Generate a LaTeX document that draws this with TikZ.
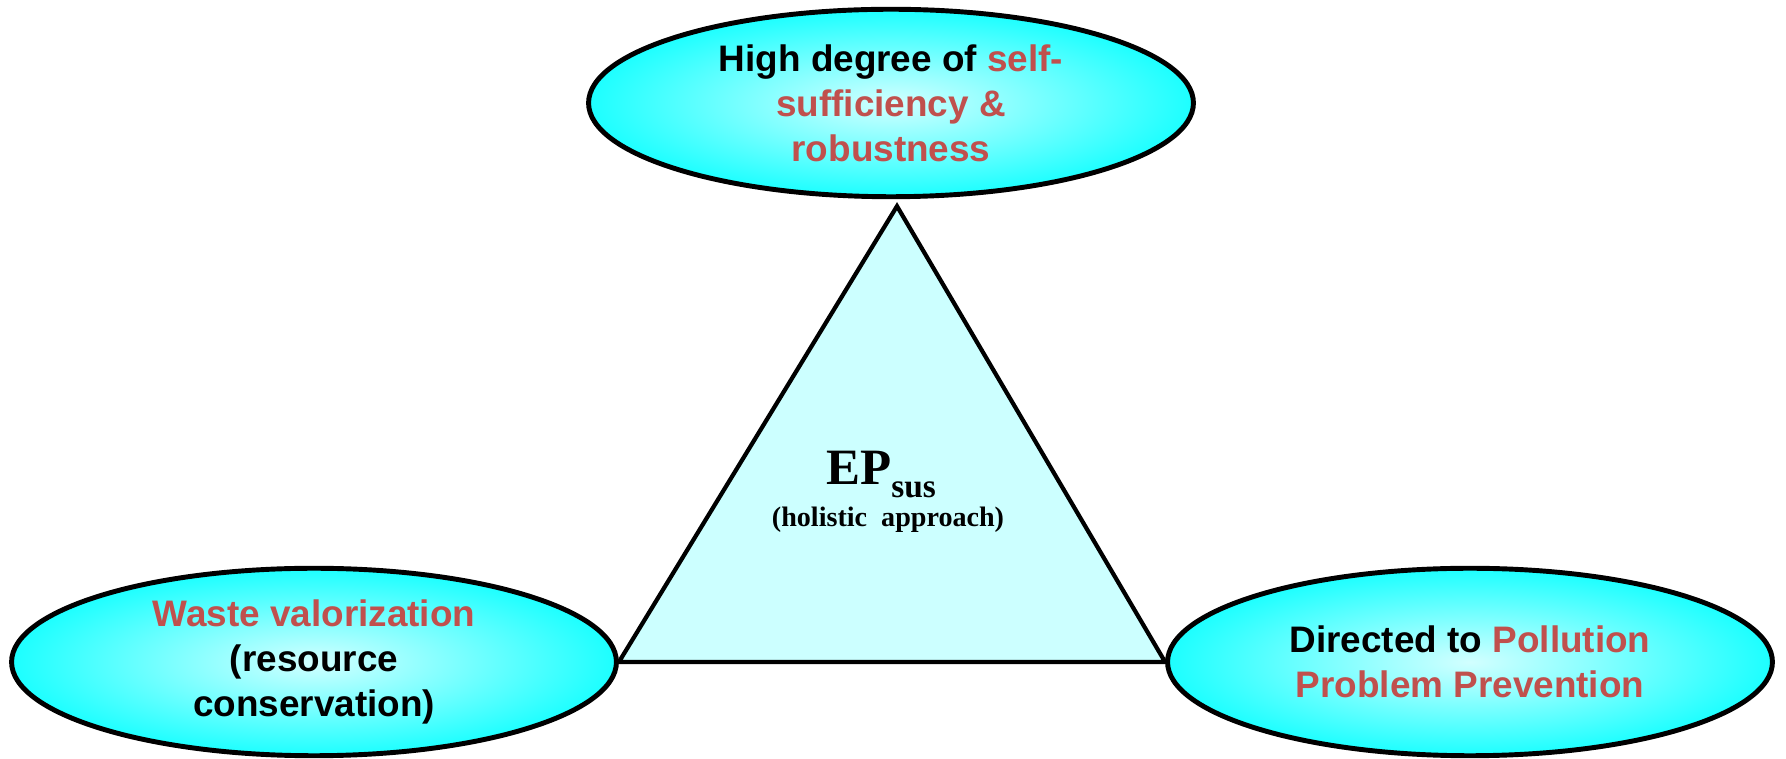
\documentclass[tikz,border=0pt]{standalone}
\usepackage{fontspec}
\setmainfont{Liberation Serif}
\setsansfont{Liberation Sans}
\usepackage{tikz}
\usetikzlibrary{calc,shapes.geometric,backgrounds}
\definecolor{rim}{HTML}{000000}
\definecolor{aqua}{HTML}{1CFFFF}
\definecolor{aqualight}{HTML}{D2FFFF}
\definecolor{trifill}{HTML}{CCFFFF}
\definecolor{accent}{HTML}{C0504D}
\tikzset{
  goal/.style={ellipse, draw=rim, line width=2.8pt, inner color=aqualight, outer color=aqua,
    minimum width=12.1cm, minimum height=3.75cm, inner sep=0pt, align=center,
    font=\sffamily\bfseries\fontsize{21}{25.6}\selectfont},
  tri/.style={draw=rim, fill=trifill, line width=2.4pt, line join=miter},
  core/.style={inner sep=0pt, anchor=base, font=\bfseries\fontsize{29}{30}\selectfont},
  coresub/.style={inner sep=0pt, anchor=base, font=\bfseries\fontsize{16}{18}\selectfont}
}

\begin{document}
\begin{tikzpicture}[x=0.02cm, y=-0.02cm]
  \useasboundingbox (0,0) rectangle (1786,759);
  \node[goal] (top) at (891,103)
    {High degree of \textcolor{accent}{self-}\\\textcolor{accent}{sufficiency \&}\\\textcolor{accent}{robustness}};
  \node[goal] (left) at (314,662)
    {\textcolor{accent}{Waste valorization}\\(resource\\conservation)};
  \node[goal] (right) at (1470,662)
    {Directed to \textcolor{accent}{Pollution}\\\textcolor{accent}{Problem Prevention}};
  \coordinate (apex) at ($(top.south)+(6,7)$);

  \begin{scope}[on background layer]
    \filldraw[tri] (apex) -- (right.west) -- (left.east) -- cycle;
  \end{scope}

  \node[core] (ep) at (881,485) {EP\raisebox{-7.4pt}{\fontsize{19}{19}\selectfont sus}};
  \node[coresub] (holistic) at (888,527) {(holistic\ \ approach)};
\end{tikzpicture}
\end{document}
